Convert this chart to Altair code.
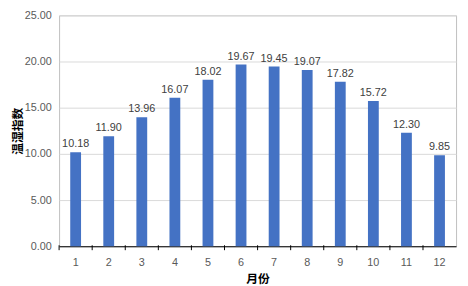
import altair as alt
import pandas as pd

months = [str(i) for i in range(1, 13)]
values = [10.18, 11.90, 13.96, 16.07, 18.02, 19.67, 19.45, 19.07, 17.82, 15.72, 12.30, 9.85]
y_ticks = [0, 5, 10, 15, 20, 25]

df = pd.DataFrame({"month": months, "value": values})

W, H = 404, 235
base = alt.Chart(df)

x_enc = alt.X(
    "month:N", sort=months, title="月份",
    scale=alt.Scale(paddingInner=0, paddingOuter=0),
    axis=alt.Axis(labelAngle=0, ticks=False, labelPadding=11, titlePadding=6,
                  domainColor="#000000", domainWidth=1),
)

bars = base.mark_bar(size=11, color="#4472C4").encode(
    x=x_enc,
    y=alt.Y("value:Q", title="温湿指数",
            scale=alt.Scale(domain=[0, 25], nice=False),
            axis=alt.Axis(values=y_ticks, format=".2f", domain=False, ticks=False,
                          labelPadding=8, gridColor="#d9d9d9",
                          titleX=-42, titleY=H / 2, titleAlign="center",
                          titleBaseline="middle")),
)

text = base.mark_text(dy=-8, fontSize=11, color="#404040", font="Liberation Sans").encode(
    x=alt.X("month:N", sort=months),
    y="value:Q",
    text=alt.Text("value:Q", format=".2f"),
)

tick_marks = base.mark_rule(color="#000000", strokeWidth=1).encode(
    x=alt.X("month:N", sort=months, bandPosition=0),
    y=alt.value(H - 1),
    y2=alt.value(H + 4),
)

chart = alt.layer(bars, text, tick_marks).properties(
    width=W, height=H,
    autosize=alt.AutoSizeParams(type="none"),
    padding={"left": 52, "top": 5, "right": 4, "bottom": 38},
).configure_view(
    stroke="#bfbfbf", strokeWidth=1
).configure_axis(
    labelFont="Liberation Sans", labelFontSize=11, labelColor="#595959",
    titleFont="Noto Sans CJK SC", titleFontSize=12, titleFontWeight="bold",
    titleColor="#000000",
)

chart.save("out.html", embed_options={"renderer": "svg", "actions": False})
